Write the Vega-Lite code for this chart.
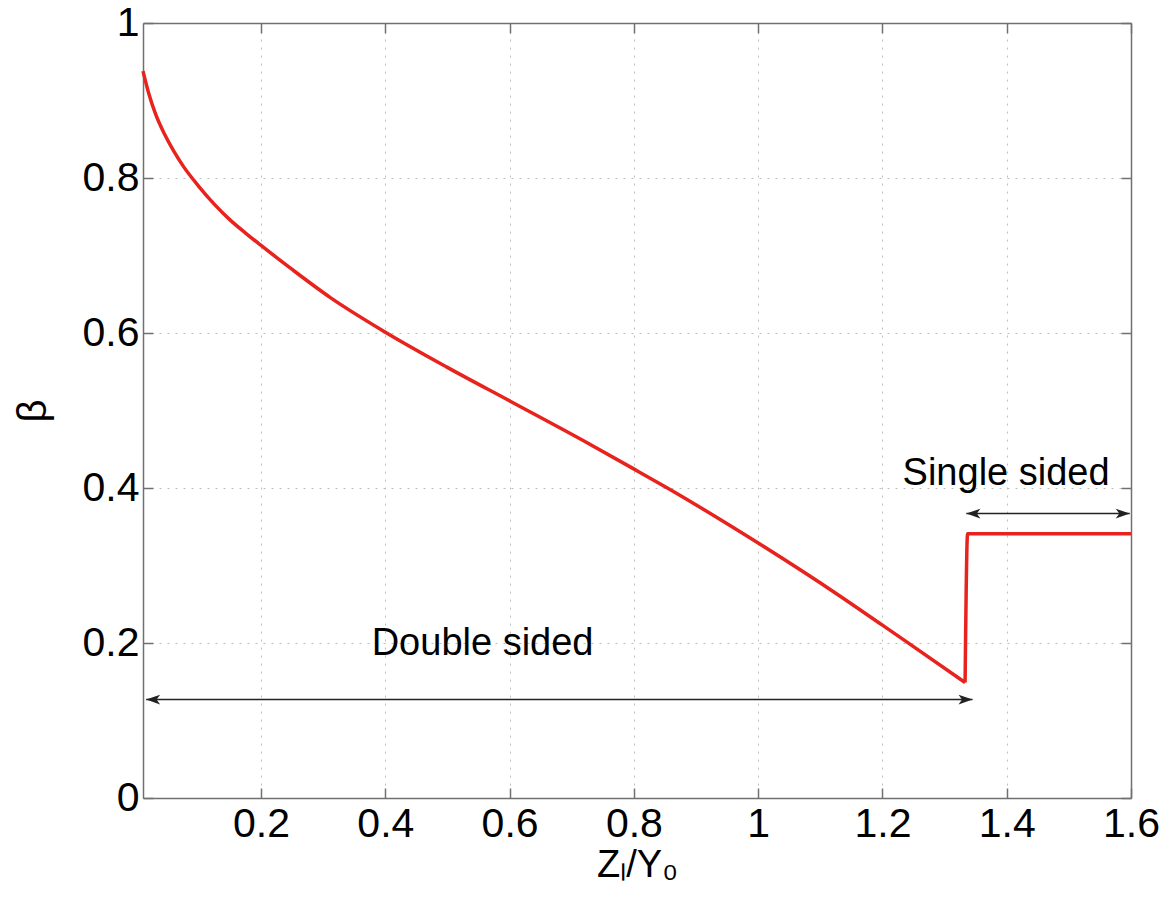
{
  "$schema": "https://vega.github.io/schema/vega-lite/v6.json",
  "width": 988,
  "height": 775,
  "autosize": "none",
  "padding": {"left": 143, "top": 23, "right": 32, "bottom": 100},
  "background": "white",
  "config": {
    "view": {"stroke": null},
    "font": "Liberation Sans",
    "axis": {
      "domainColor": "#707070",
      "domainWidth": 1.5,
      "tickColor": "#707070",
      "tickWidth": 1.5,
      "tickSize": -10,
      "gridColor": "#bdbdbd",
      "gridDash": [2, 6],
      "gridWidth": 1,
      "labelFlush": false,
      "labelOverlap": false,
      "labelFont": "Liberation Sans",
      "labelFontSize": 41,
      "labelColor": "#000000",
      "titleFont": "Liberation Sans",
      "titleFontWeight": "normal",
      "titleColor": "#000000"
    }
  },
  "datasets": {
    "curve": [
      {"x": 0.01, "beta": 0.938, "seg": "a"},
      {"x": 0.02, "beta": 0.907, "seg": "a"},
      {"x": 0.03, "beta": 0.883, "seg": "a"},
      {"x": 0.045, "beta": 0.856, "seg": "a"},
      {"x": 0.06, "beta": 0.834, "seg": "a"},
      {"x": 0.075, "beta": 0.815, "seg": "a"},
      {"x": 0.1, "beta": 0.789, "seg": "a"},
      {"x": 0.125, "beta": 0.766, "seg": "a"},
      {"x": 0.15, "beta": 0.746, "seg": "a"},
      {"x": 0.175, "beta": 0.729, "seg": "a"},
      {"x": 0.2, "beta": 0.713, "seg": "a"},
      {"x": 0.25, "beta": 0.682, "seg": "a"},
      {"x": 0.311, "beta": 0.646, "seg": "a"},
      {"x": 0.398, "beta": 0.602, "seg": "a"},
      {"x": 0.499, "beta": 0.556, "seg": "a"},
      {"x": 0.601, "beta": 0.512, "seg": "a"},
      {"x": 0.719, "beta": 0.461, "seg": "a"},
      {"x": 0.799, "beta": 0.425, "seg": "a"},
      {"x": 0.856, "beta": 0.399, "seg": "a"},
      {"x": 1.0, "beta": 0.329, "seg": "a"},
      {"x": 1.129, "beta": 0.262, "seg": "a"},
      {"x": 1.2, "beta": 0.223, "seg": "a"},
      {"x": 1.239, "beta": 0.2015, "seg": "a"},
      {"x": 1.333, "beta": 0.149, "seg": "a"},
      {"x": 1.333, "beta": 0.149, "seg": "b"},
      {"x": 1.337, "beta": 0.341, "seg": "b"},
      {"x": 1.6, "beta": 0.341, "seg": "b"}
    ],
    "arrows": [
      {"x1": 0.015, "x2": 1.345, "y": 0.127},
      {"x1": 1.335, "x2": 1.598, "y": 0.367}
    ],
    "heads": [
      {"x": 0.015, "y": 0.127, "dir": "left"},
      {"x": 1.345, "y": 0.127, "dir": "right"},
      {"x": 1.335, "y": 0.367, "dir": "left"},
      {"x": 1.598, "y": 0.367, "dir": "right"}
    ],
    "labels": [
      {"x": 0.5565, "y": 0.185, "text": "Double sided"},
      {"x": 1.399, "y": 0.404, "text": "Single sided"}
    ]
  },
  "resolve": {"axis": {"x": "independent", "y": "independent"}},
  "layer": [
    {
      "data": {"name": "curve"},
      "mark": {"type": "line", "color": "#e8221c", "strokeWidth": 3.5, "interpolate": "monotone"},
      "encoding": {
        "x": {
          "field": "x", "type": "quantitative",
          "scale": {"domain": [0.01, 1.6], "nice": false, "zero": false},
          "axis": {
            "orient": "bottom",
            "values": [0.2, 0.4, 0.6, 0.8, 1.0, 1.2, 1.4, 1.6],
            "format": "~g",
            "grid": true,
            "labelPadding": 16,
            "title": "Zₗ/Y₀",
            "titleFontSize": 38,
            "titlePadding": 2
          }
        },
        "y": {
          "field": "beta", "type": "quantitative",
          "scale": {"domain": [0, 1], "nice": false},
          "axis": {
            "orient": "left",
            "values": [0, 0.2, 0.4, 0.6, 0.8, 1.0],
            "format": "~g",
            "grid": true,
            "labelPadding": 14,
            "title": "β",
            "titleFontSize": 40,
            "titlePadding": 29
          }
        },
        "detail": {"field": "seg"}
      }
    },
    {
      "data": {"name": "arrows"},
      "mark": {"type": "rule", "color": "#222222", "strokeWidth": 1.5},
      "encoding": {
        "x": {
          "field": "x1", "type": "quantitative",
          "axis": {
            "orient": "top",
            "values": [0.2, 0.4, 0.6, 0.8, 1.0, 1.2, 1.4, 1.6],
            "labels": false, "grid": false, "title": null
          }
        },
        "x2": {"field": "x2"},
        "y": {
          "field": "y", "type": "quantitative",
          "axis": {
            "orient": "right",
            "values": [0, 0.2, 0.4, 0.6, 0.8, 1.0],
            "labels": false, "grid": false, "title": null
          }
        }
      }
    },
    {
      "data": {"name": "heads"},
      "mark": {"type": "point", "filled": true, "color": "#222222", "opacity": 1, "size": 784, "strokeWidth": 0},
      "encoding": {
        "x": {"field": "x", "type": "quantitative", "axis": null},
        "y": {"field": "y", "type": "quantitative", "axis": null},
        "shape": {
          "field": "dir", "type": "nominal",
          "scale": {"domain": ["left", "right"], "range": ["M0,0 L1,-0.35 L0.75,0 L1,0.35 Z", "M0,0 L-1,-0.35 L-0.75,0 L-1,0.35 Z"]},
          "legend": null
        }
      }
    },
    {
      "data": {"name": "labels"},
      "mark": {"type": "text", "font": "Liberation Sans", "fontSize": 38, "color": "#000000", "align": "center", "baseline": "alphabetic"},
      "encoding": {
        "x": {"field": "x", "type": "quantitative", "axis": null},
        "y": {"field": "y", "type": "quantitative", "axis": null},
        "text": {"field": "text"}
      }
    }
  ]
}
